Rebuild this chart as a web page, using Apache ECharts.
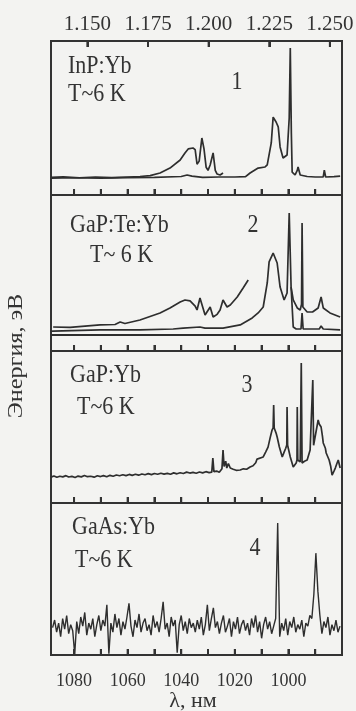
<!DOCTYPE html>
<html>
<head>
<meta charset="utf-8">
<script src="https://cdn.jsdelivr.net/npm/echarts@6/dist/echarts.min.js"></script>
<style>
  html, body { margin: 0; background: #f3f3f1; }
  #main { width: 356px; height: 711px; }
</style>
</head>
<body>
<div id="main"></div>
<script>
// длина волны, нм / интенсивность (отн. ед.)
const lambdaTicks = [1080, 1070, 1060, 1050, 1040, 1030, 1020, 1010, 1000, 990];
const lambdaLabels = [1080, 1060, 1040, 1020, 1000];
const energyTicks = ['1.150', '1.175', '1.200', '1.225', '1.250'];
// верхняя шкала, эВ (шаг 0.005)
const energyGrid = ['1.135', '1.140', '1.145', '1.150', '1.155', '1.160', '1.165', '1.170', '1.175', '1.180',
  '1.185', '1.190', '1.195', '1.200', '1.205', '1.210', '1.215', '1.220', '1.225', '1.230', '1.235', '1.240',
  '1.245', '1.250', '1.255'];

// 1 - InP:Yb
const inpScanA = [[1088.6,11.4],[1084,11.8],[1078,11.2],[1072,11.6],[1066,11.3],[1060,11.7],[1055.4,12.0],[1051.6,12.6],
  [1047.9,14.3],[1044.2,17.5],[1040.4,22.7],[1038.6,27.3],[1037.4,29.9],[1035.6,30.5],[1034.8,29.5],[1034.1,20.0],
  [1033.3,22.0],[1032.3,37.0],[1031.5,30.0],[1030.7,18.0],[1030.0,16.0],[1029.2,19.5],[1028.1,27.3],[1027.3,16.0],
  [1026.6,13.6],[1025.5,13.0],[1024.4,14.3]];
const inpScanB = [[1088.6,11.0],[1080,11.2],[1070,11.0],[1060,11.3],[1050,11.4],[1040,12.0],[1037.8,13.0],[1036,12.3],
  [1032,11.4],[1026,11.7],[1020,11.7],[1016,11.9],[1014.3,14.3],[1011.3,17.5],[1008.7,18.2],[1007.9,19.5],[1006.4,33.8],
  [1005.7,50.6],[1004.6,47.4],[1003.8,44.2],[1003.1,31.2],[1002.0,24.0],[1000.5,26.0],[999.7,50.0],[999.3,95.5],
  [998.9,40.0],[998.6,14.9],[997.5,13.0],[996.7,16.0],[996.4,18.2],[995.6,13.0],[993,12.0],[990,11.7],[987,11.8],
  [986.6,16.2],[986.1,11.7],[983,11.9],[980.7,12.3]];

// 2 - GaP:Te:Yb
const gapteZero = 10.3;
const gapteScanA = [[1087.8,15.4],[1081.5,15.2],[1070.3,16.7],[1064.7,17.0],[1062.8,18.6],[1061,17.6],[1055.4,19.9],
  [1047.9,24.4],[1044.2,27.6],[1040.4,31.4],[1038.6,32.7],[1036.7,32.1],[1034.8,28.8],[1034.1,26.3],[1033.0,34.0],
  [1031.1,23.1],[1029.2,28.2],[1028.1,21.8],[1026.6,23.5],[1025.5,26.3],[1024.4,32.7],[1022.9,28.2],[1021.7,29.5],
  [1019.1,34.6],[1016.9,40.4],[1015.0,45.5]];
const gapteScanB = [[1088.6,12.6],[1087.8,12.8],[1070.3,13.5],[1055.4,13.5],[1043.0,14.1],[1039.3,14.7],[1033.0,15.4],
  [1031.1,14.7],[1024.4,14.7],[1018.0,16.7],[1013.5,21.2],[1011.3,24.4],[1009.4,28.2],[1007.9,43.6],[1007.2,57.1],
  [1005.7,62.8],[1004.2,56.4],[1003.1,41.0],[1001.6,32.7],[1000.5,37.2],[999.7,88.5],[999.0,41.0],[998.2,15.4],
  [997.1,14.1],[995.3,14.1],[994.9,24.4],[994.5,14.1],[988.5,14.1],[987.8,16.0],[987.0,14.1],[980.7,13.5]];
const gapteScanC = [[999.0,41.0],[998.2,32.7],[996.7,27.6],[995.6,26.3],[995.1,30.0],[994.9,82.1],[994.6,28.2],
  [993.0,25.0],[991.0,25.0],[988.9,27.6],[987.8,34.6],[987.0,27.6],[984.5,24.4],[980.7,21.8]];

// 3 - GaP:Yb
const gapybScan = [[1088.6,17.0],[1087.5,17.8],[1086.4,16.9],[1085.3,17.6],[1084.2,17.2],[1083,18.0],[1082,17.1],
  [1080.8,17.5],[1079.6,16.8],[1078.5,17.7],[1077.3,17.2],[1076.1,18.1],[1075,17.3],[1073.8,17.6],[1072.5,17.0],
  [1071.3,17.9],[1070.1,17.4],[1069,18.0],[1067.8,17.3],[1066.6,18.2],[1065.4,17.6],[1064.2,18.4],[1063,17.9],
  [1061.8,18.6],[1060.6,18.0],[1059.4,18.8],[1058.3,18.2],[1057.1,18.9],[1055.9,18.3],[1054.7,19.1],[1053.5,18.6],
  [1052.3,19.3],[1051.1,18.7],[1050,19.4],[1048.8,18.9],[1047.6,19.6],[1046.4,19.0],[1045.2,19.5],[1044,18.9],
  [1042.8,19.8],[1041.6,19.2],[1040.4,19.9],[1039.2,19.4],[1038,20.3],[1036.8,19.7],[1035.6,20.1],[1034.4,19.6],
  [1033.2,20.4],[1032,19.8],[1030.8,20.6],[1029.6,20.0],[1028.6,20.3],[1028.2,29.6],[1027.8,20.6],[1026.8,21.0],
  [1025.8,20.2],[1024.8,22.5],[1024.4,34.9],[1024.0,24.0],[1023.4,27.5],[1023.0,23.0],[1022.4,26.0],[1021.7,23.0],
  [1020.6,22.2],[1019.5,21.5],[1018,21.7],[1016.8,22.5],[1015.6,22.2],[1014.3,23.7],[1013.2,24.5],[1012.2,26.5],
  [1011.7,28.9],[1011,27.8],[1009.4,30.3],[1008.5,33.5],[1007.6,36.8],[1006.8,43.0],[1006.1,48.0],[1005.7,49.5],
  [1005.5,64.5],[1005.3,49.3],[1004.6,46.0],[1004.2,43.4],[1003.4,37.0],[1002.3,30.3],[1001.6,33.5],[1001.0,36.0],
  [1000.6,38.2],[1000.5,63.2],[1000.3,38.0],[999.3,30.3],[998.2,23.7],[997.5,25.0],[997.1,26.3],[996.8,28.3],
  [996.7,63.2],[996.5,28.3],[995.6,27.0],[995.2,92.1],[994.9,26.3],[994.0,27.5],[993.0,28.3],[991.9,34.9],
  [990.9,80.9],[990.6,38.0],[990.0,36.8],[988.9,54.6],[988.5,52.0],[987.8,50.0],[987.3,44.0],[987.0,39.5],
  [986.2,36.0],[985.9,32.9],[984.8,28.3],[984.2,24.0],[983.7,18.4],[983.0,21.0],[982.5,23.0],[981.8,26.5],
  [981.4,28.3],[980.7,23.0]];

// 4 - GaAs:Yb, шаг 0.75 нм от 1088 нм
const gaasStartNm = 1088;
const gaasStepNm = 0.75;
const gaasValues = [
  18, 23, 15, 21, 12, 24, 17, 26, 14, 20, 16, 0.5,
  22, 14, 25, 19, 28, 13, 21, 17, 24, 12, 20, 26,
  16, 23, 19, 33, 0.8, 21, 15, 27, 18, 24, 13, 22,
  17, 25, 34, 19, 12, 23, 18, 27, 15, 21, 24, 16,
  20, 13, 26, 18, 22, 15, 24, 35, 17, 21, 12, 25,
  19, 23, 1.5, 20, 26, 16, 22, 14, 24, 18, 21, 15,
  23, 17, 25, 13, 20, 33, 16, 24, 31, 18, 22, 14,
  21, 26, 15, 19, 24, 12, 22, 17, 25, 14, 20, 23,
  16, 21, 13, 24, 18, 26, 15, 22, 11, 20, 25, 17,
  22, 14, 19, 24, 86.8, 12, 21, 16, 24, 13, 22, 18,
  25, 15, 20, 17, 23, 12, 21, 19, 26, 24, 40, 67,
  42, 26, 14, 22, 18, 25, 13, 20, 16, 23, 15, 19
];
const gaasScan = gaasValues.map((v, i) => [gaasStartNm - i * gaasStepNm, v]);

const ink = '#2e2e2e';
const font = '"Liberation Serif", "DejaVu Serif", serif';
const tops = [41, 195, 351, 503];
const heights = [154, 156, 152, 152];

const grids = tops.map((t, i) => ({
  left: 51, width: 291, top: t, height: heights[i],
  show: true, borderColor: '#333', borderWidth: 2, backgroundColor: 'transparent',
  outerBoundsMode: 'none', containLabel: false
}));

const xAxes = tops.map((t, i) => ({
  type: 'value', gridIndex: i, position: 'bottom',
  min: 980, max: 1088.6, interval: 10, inverse: true,
  splitLine: { show: false },
  axisLine: { show: true, onZero: false, lineStyle: { color: '#333', width: 2 } },
  axisTick: { show: true, inside: true, length: 6, lineStyle: { color: '#333', width: 2 } },
  axisLabel: {
    show: i === 3, margin: 17,
    color: '#333', fontFamily: font, fontSize: 18,
    formatter: v => lambdaLabels.indexOf(Math.round(v)) >= 0 && Math.abs(v - Math.round(v)) < 0.01 ? String(Math.round(v)) : ''
  }
}));
// верхняя шкала — энергия, эВ
const isEnergyTick = (idx, val) => energyTicks.indexOf(energyGrid[idx]) >= 0;
xAxes.push({
  type: 'category', gridIndex: 0, position: 'top',
  data: energyGrid, boundaryGap: false,
  splitLine: { show: false },
  axisLine: { show: true, onZero: false, lineStyle: { color: '#333', width: 2 } },
  axisTick: { show: true, inside: true, length: 6, interval: isEnergyTick, lineStyle: { color: '#333', width: 2 } },
  axisLabel: {
    interval: isEnergyTick, margin: 6, color: '#333', fontFamily: font, fontSize: 21
  }
});

const yAxes = tops.map((t, i) => ({ type: 'value', gridIndex: i, min: 0, max: 100, show: false }));

function spectrum(data, idx, extra) {
  return Object.assign({
    type: 'line', data: data, xAxisIndex: idx, yAxisIndex: idx,
    showSymbol: false, symbol: 'none', silent: true, clip: true,
    lineStyle: { color: ink, width: 1.7 }
  }, extra || {});
}

// засечки шкал: положение берётся из шкалы осей (api.coord)
function tickMarks(values, xIdx, yIdx, yVal, dir) {
  return {
    type: 'custom', xAxisIndex: xIdx, yAxisIndex: yIdx, silent: true, clip: false, z: 5,
    data: values.map(v => [v, yVal]),
    encode: { x: 0, y: 1 },
    renderItem: (params, api) => {
      const p = api.coord([api.value(0), api.value(1)]);
      return {
        type: 'line',
        shape: { x1: p[0], y1: p[1], x2: p[0], y2: p[1] + dir * 6 },
        style: { stroke: '#333', lineWidth: 2 }
      };
    }
  };
}

const series = [
  spectrum(inpScanA, 0),
  spectrum(inpScanB, 0),
  spectrum(gapteScanA, 1),
  spectrum(gapteScanB, 1, {
    markLine: { silent: true, symbol: 'none', label: { show: false },
      lineStyle: { color: ink, width: 2, type: 'solid' }, data: [{ yAxis: gapteZero }] }
  }),
  spectrum(gapteScanC, 1),
  spectrum(gapybScan, 2),
  spectrum(gaasScan, 3, { lineStyle: { color: ink, width: 1.4 } })
];
tops.forEach((t, i) => series.push(tickMarks(lambdaTicks, i, i, 0, -1)));
series.push(tickMarks(energyTicks.map(e => energyGrid.indexOf(e)), 4, 0, 100, 1));

function label(text, x, y, align, extra) {
  return Object.assign({
    type: 'text', x: x, y: y, scaleY: 1.15, silent: true,
    style: {
      text: text, font: '22px ' + font, fill: '#333',
      textAlign: align, align: align, textVerticalAlign: 'middle', verticalAlign: 'middle'
    }
  }, extra || {});
}

const graphics = [
  label('InP:Yb', 68, 66, 'left'),
  label('T~6 K', 68, 94, 'left'),
  label('1', 237, 82, 'center'),
  label('GaP:Te:Yb', 70, 225, 'left'),
  label('T~ 6 K', 90, 255, 'left'),
  label('2', 253, 225, 'center'),
  label('GaP:Yb', 70, 375, 'left'),
  label('T~6 K', 77, 407, 'left'),
  label('3', 247, 385, 'center'),
  label('GaAs:Yb', 72, 527, 'left'),
  label('T~6 K', 75, 560, 'left'),
  label('4', 255, 548, 'center'),
  label('Энергия, эВ', 16, 356, 'center', { rotation: Math.PI / 2, scaleY: 1, scaleX: 1.1 }),
  label('λ, нм', 193, 701, 'center', { scaleY: 1 })
];

const chart = echarts.init(document.getElementById('main'));
chart.setOption({
  animation: false,
  backgroundColor: '#f3f3f1',
  grid: grids,
  xAxis: xAxes,
  yAxis: yAxes,
  series: series,
  graphic: graphics
});
</script>
</body>
</html>
